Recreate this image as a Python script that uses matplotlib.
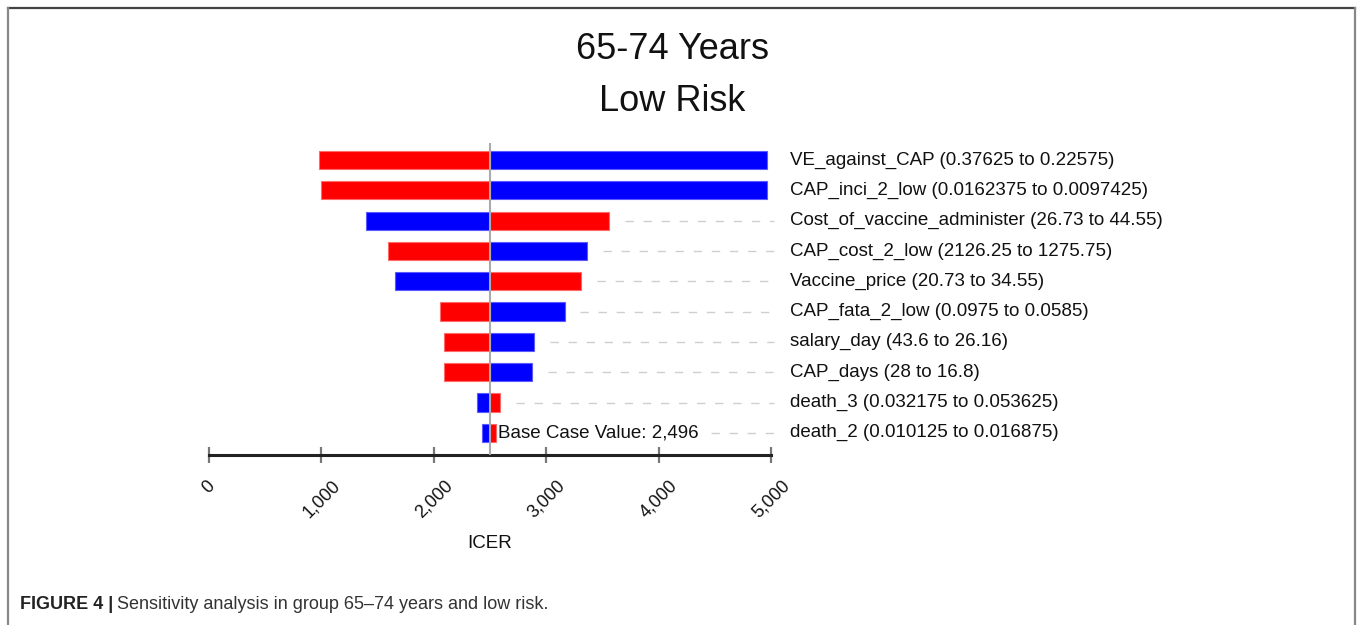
import matplotlib
matplotlib.use("Agg")
import matplotlib.pyplot as plt
from matplotlib.lines import Line2D

plt.rcParams['font.family'] = ['Liberation Sans', 'DejaVu Sans']

# ---- data ----
params = ["VE_against_CAP (0.37625 to 0.22575)",
          "CAP_inci_2_low (0.0162375 to 0.0097425)",
          "Cost_of_vaccine_administer (26.73 to 44.55)",
          "CAP_cost_2_low (2126.25 to 1275.75)",
          "Vaccine_price (20.73 to 34.55)",
          "CAP_fata_2_low (0.0975 to 0.0585)",
          "salary_day (43.6 to 26.16)",
          "CAP_days (28 to 16.8)",
          "death_3 (0.032175 to 0.053625)",
          "death_2 (0.010125 to 0.016875)"]
icer_low_input = [4965, 4965, 1399, 3363, 1654, 3163, 2891, 2874, 2387, 2428]   # blue
icer_high_input = [980, 997, 3557, 1589, 3309, 2054, 2089, 2089, 2588, 2554]     # red
base_case = 2496
xticks = [0, 1000, 2000, 3000, 4000, 5000]
xticklabels = ["0", "1,000", "2,000", "3,000", "4,000", "5,000"]

BLUE = "#0000ff"
RED = "#ff0000"
TXT = "#111111"

fig = plt.figure(figsize=(13.58, 6.25), dpi=100)
W, H = 1358, 625
ax = fig.add_axes([209 / W, 1 - 455 / H, 562 / W, (455 - 143) / H])
ax.set_xlim(0, 5000)
ax.set_ylim(9.73, -0.56)

bar_h = 0.6
for i, (lo, hi) in enumerate(zip(icer_low_input, icer_high_input)):
    ax.barh(i, lo - base_case, left=base_case, height=bar_h, color=BLUE,
            edgecolor="#5a5aff", linewidth=0.8, zorder=2)
    ax.barh(i, hi - base_case, left=base_case, height=bar_h, color=RED,
            edgecolor="#ff6a6a", linewidth=0.8, zorder=2)

ax.axvline(base_case, color="#aaaaaa", lw=1.5, zorder=3)

# base case text
bt = ax.text(base_case + 75, 9, "Base Case Value: 2,496", fontsize=13.5,
             va="center", ha="left", color=TXT, zorder=4)

fig.canvas.draw()
renderer = fig.canvas.get_renderer()
bb = bt.get_window_extent(renderer)
inv = ax.transData.inverted()
text_end = inv.transform((bb.x1, bb.y0))[0]

dash_end = 5030
for i, (lo, hi) in enumerate(zip(icer_low_input, icer_high_input)):
    start = max(lo, hi) + 140
    if i == 9:
        start = max(start, text_end + 110)
    if start < dash_end:
        ax.plot([start, dash_end], [i, i], color="#cfcfcf", lw=1,
                dashes=(6, 7), clip_on=False, zorder=1)

for i, p in enumerate(params):
    ax.text(5170, i, p, fontsize=13.5, va="center", ha="left",
            color=TXT, clip_on=False)

for s in ["top", "right", "left"]:
    ax.spines[s].set_visible(False)
ax.spines["bottom"].set_color("#222222")
ax.spines["bottom"].set_linewidth(2.2)
ax.set_yticks([])
ax.set_xticks(xticks)
ax.set_xticklabels(xticklabels, rotation=45, ha="center", va="top",
                   rotation_mode="default", fontsize=13, color=TXT)
ax.tick_params(axis="x", direction="inout", length=12, width=1.6,
               color="#777777", pad=10)
ax.set_xlabel("ICER", fontsize=13.5, color=TXT, va="baseline")
ax.xaxis.set_label_coords(0.5, -(548 - 455) / (455 - 143))

# title
fig.text(672 / W, 1 - 59 / H, "65-74 Years", fontsize=26, ha="center",
         va="baseline", color=TXT)
fig.text(672 / W, 1 - 111 / H, "Low Risk", fontsize=26, ha="center",
         va="baseline", color=TXT)

# frame
fig.add_artist(Line2D([8 / W, 1355 / W], [1 - 8 / H, 1 - 8 / H],
                      transform=fig.transFigure, color="#444444", lw=1.6))
fig.add_artist(Line2D([8 / W, 8 / W], [0, 1 - 8 / H],
                      transform=fig.transFigure, color="#888888", lw=1.6))
fig.add_artist(Line2D([1355 / W, 1355 / W], [0, 1 - 8 / H],
                      transform=fig.transFigure, color="#888888", lw=1.6))

# caption
c1 = fig.text(20 / W, 1 - 609 / H, "FIGURE 4 |", fontsize=13,
              fontweight="bold", ha="left", va="baseline", color="#222222")
fig.canvas.draw()
cb = c1.get_window_extent(fig.canvas.get_renderer())
fig.text((cb.x1 + 4) / W, 1 - 609 / H,
         "Sensitivity analysis in group 65\u201374 years and low risk.",
         fontsize=13, ha="left", va="baseline", color="#333333")

fig.savefig("out.png", dpi=100, facecolor="white")
